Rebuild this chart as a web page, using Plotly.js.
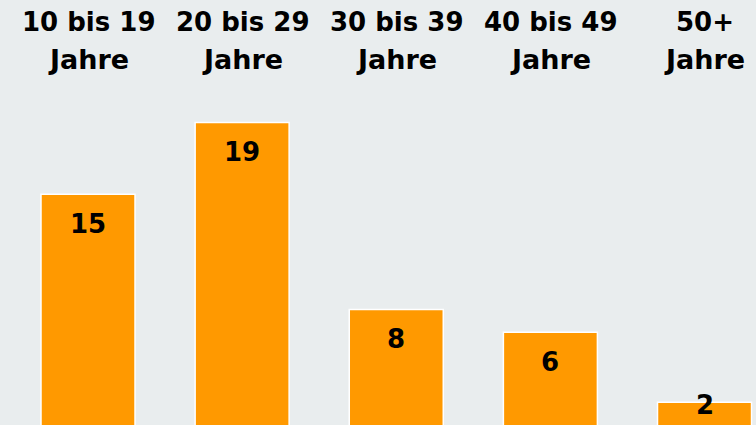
<!DOCTYPE html>
<html>
<head>
<meta charset="utf-8">
<script src="https://cdn.plot.ly/plotly-3.0.1.min.js"></script>
<style>
  html, body { margin: 0; padding: 0; background: #E9EDEE; }
  #chart { width: 756px; height: 425px; }
</style>
</head>
<body>
<div id="chart"></div>
<script>
const categories = ['10 bis 19 Jahre', '20 bis 29 Jahre', '30 bis 39 Jahre', '40 bis 49 Jahre', '50+ Jahre'];
const labelLine1 = ['10 bis 19', '20 bis 29', '30 bis 39', '40 bis 49', '50+'];
const labelLine2 = ['Jahre', 'Jahre', 'Jahre', 'Jahre', 'Jahre'];
const values = [14.8, 19.2, 7.7, 6.3, 2.0];

const bg = '#E9EDEE';
const orange = '#FF9900';
const baseFont = { family: 'DejaVu Sans, Verdana, sans-serif', color: '#000000', weight: 'bold' };
const line1Font = Object.assign({}, baseFont, { size: 26 });
const line2Font = Object.assign({}, baseFont, { size: 27 });
const valueFont = Object.assign({}, baseFont, { size: 26 });

const trace = {
  type: 'bar',
  x: categories,
  y: values,
  width: 0.61,
  marker: { color: orange, line: { color: '#FFFFFF', width: 1.5 } },
  hoverinfo: 'skip'
};

const annotations = [];
categories.forEach((c, i) => {
  annotations.push({ x: c, xref: 'x', y: 1 - 22 / 425, yref: 'paper', text: '<b>' + labelLine1[i] + '</b>',
    showarrow: false, xanchor: 'center', yanchor: 'middle', font: line1Font });
  annotations.push({ x: c, xref: 'x', y: 1 - 60 / 425, yref: 'paper', text: '<b>' + labelLine2[i] + '</b>',
    showarrow: false, xanchor: 'center', yanchor: 'middle', font: line2Font });
  const labelY = Math.max(values[i] - 1.81, 1.86);
  annotations.push({ x: c, xref: 'x', y: labelY, yref: 'y', text: '<b>' + String(Math.round(values[i])) + '</b>',
    showarrow: false, xanchor: 'center', yanchor: 'middle', font: valueFont });
});

const layout = {
  width: 756,
  height: 425,
  margin: { l: 0, r: 0, t: 0, b: 0, pad: 0 },
  paper_bgcolor: bg,
  plot_bgcolor: bg,
  showlegend: false,
  xaxis: { type: 'category', range: [-0.571, 4.334], showticklabels: false, showgrid: false,
           zeroline: false, showline: false, ticks: '', fixedrange: true },
  yaxis: { range: [0.603, 26.74], showticklabels: false, showgrid: false, zeroline: false,
           showline: false, ticks: '', fixedrange: true },
  annotations: annotations
};

Plotly.newPlot('chart', [trace], layout, { displayModeBar: false, staticPlot: true });
</script>
</body>
</html>
